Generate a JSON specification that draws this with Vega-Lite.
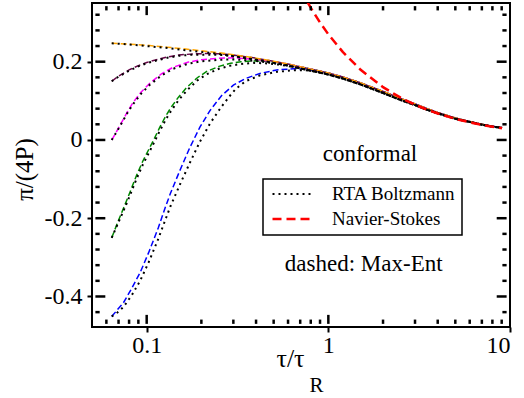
{
  "$schema": "https://vega.github.io/schema/vega-lite/v6.json",
  "width": 418,
  "height": 324,
  "autosize": {"type": "none"},
  "padding": {"left": 92, "top": 3, "right": 14, "bottom": 71},
  "background": "white",
  "config": {
    "font": "Liberation Serif",
    "view": {"stroke": "black", "strokeWidth": 2},
    "axis": {
      "domain": false,
      "grid": false,
      "ticks": true,
      "tickColor": "black",
      "tickWidth": 2,
      "labelFont": "Liberation Serif",
      "labelFontSize": 24,
      "labelColor": "black",
      "titleFont": "Liberation Serif",
      "titleFontWeight": "normal",
      "titleFontSize": 24,
      "titleColor": "black"
    },
    "legend": {
      "labelFont": "Liberation Serif",
      "labelFontSize": 19,
      "labelColor": "black",
      "padding": 6,
      "symbolOffset": 2,
      "labelOffset": 18,
      "rowPadding": 6,
      "clipHeight": 18,
      "strokeColor": "black",
      "strokeWidth": 1.5,
      "fillColor": "white",
      "symbolType": "stroke",
      "symbolSize": 1600,
      "symbolStrokeWidth": 2
    }
  },
  "datasets": {
    "xmajor": [{"t": 0.1}, {"t": 1}],
    "xminor": [
      {"t": 0.06}, {"t": 0.07}, {"t": 0.08}, {"t": 0.09},
      {"t": 0.2}, {"t": 0.3}, {"t": 0.4}, {"t": 0.5}, {"t": 0.6}, {"t": 0.7}, {"t": 0.8}, {"t": 0.9},
      {"t": 2}, {"t": 3}, {"t": 4}, {"t": 5}, {"t": 6}, {"t": 7}, {"t": 8}, {"t": 9}
    ],
    "ymajor": [{"t": -0.4}, {"t": -0.2}, {"t": 0}, {"t": 0.2}],
    "yminor": [
      {"t": -0.44}, {"t": -0.36}, {"t": -0.32}, {"t": -0.28}, {"t": -0.24}, {"t": -0.16}, {"t": -0.12}, {"t": -0.08},
      {"t": -0.04}, {"t": 0.04}, {"t": 0.08}, {"t": 0.12}, {"t": 0.16}, {"t": 0.24}, {"t": 0.28}, {"t": 0.32}
    ],
    "curves": [
      {"kind": "Max-Ent a", "run": "a", "w": 0.0642, "v": -0.451},
      {"kind": "Max-Ent a", "run": "a", "w": 0.069, "v": -0.434},
      {"kind": "Max-Ent a", "run": "a", "w": 0.0745, "v": -0.416},
      {"kind": "Max-Ent a", "run": "a", "w": 0.083, "v": -0.378},
      {"kind": "Max-Ent a", "run": "a", "w": 0.092, "v": -0.339},
      {"kind": "Max-Ent a", "run": "a", "w": 0.1025, "v": -0.288},
      {"kind": "Max-Ent a", "run": "a", "w": 0.116, "v": -0.224},
      {"kind": "Max-Ent a", "run": "a", "w": 0.126, "v": -0.175},
      {"kind": "Max-Ent a", "run": "a", "w": 0.135, "v": -0.137},
      {"kind": "Max-Ent a", "run": "a", "w": 0.152, "v": -0.079},
      {"kind": "Max-Ent a", "run": "a", "w": 0.173, "v": -0.019},
      {"kind": "Max-Ent a", "run": "a", "w": 0.196, "v": 0.032},
      {"kind": "Max-Ent a", "run": "a", "w": 0.223, "v": 0.075},
      {"kind": "Max-Ent a", "run": "a", "w": 0.258, "v": 0.113},
      {"kind": "Max-Ent a", "run": "a", "w": 0.3, "v": 0.140},
      {"kind": "Max-Ent a", "run": "a", "w": 0.35, "v": 0.157},
      {"kind": "Max-Ent a", "run": "a", "w": 0.42, "v": 0.170},
      {"kind": "Max-Ent a", "run": "a", "w": 0.52, "v": 0.179},
      {"kind": "Max-Ent a", "run": "a", "w": 0.64, "v": 0.182},
      {"kind": "Max-Ent a", "run": "a", "w": 0.75, "v": 0.181},
      {"kind": "Max-Ent a", "run": "a", "w": 0.85, "v": 0.177},
      {"kind": "Max-Ent a", "run": "a", "w": 1.0, "v": 0.171},
      {"kind": "Max-Ent a", "run": "a", "w": 1.2, "v": 0.161},
      {"kind": "Max-Ent a", "run": "a", "w": 1.5, "v": 0.146},
      {"kind": "Max-Ent a", "run": "a", "w": 2.0, "v": 0.124},
      {"kind": "Max-Ent a", "run": "a", "w": 2.5, "v": 0.106},
      {"kind": "Max-Ent a", "run": "a", "w": 3.0, "v": 0.092},
      {"kind": "Max-Ent a", "run": "a", "w": 3.5, "v": 0.080},
      {"kind": "Max-Ent a", "run": "a", "w": 4.0, "v": 0.070},
      {"kind": "Max-Ent a", "run": "a", "w": 5.0, "v": 0.056},
      {"kind": "Max-Ent a", "run": "a", "w": 6.0, "v": 0.047},
      {"kind": "Max-Ent a", "run": "a", "w": 7.0, "v": 0.040},
      {"kind": "Max-Ent a", "run": "a", "w": 8.0, "v": 0.035},
      {"kind": "Max-Ent a", "run": "a", "w": 9.04, "v": 0.031},

      {"kind": "Max-Ent b", "run": "b", "w": 0.0642, "v": -0.25},
      {"kind": "Max-Ent b", "run": "b", "w": 0.07, "v": -0.205},
      {"kind": "Max-Ent b", "run": "b", "w": 0.076, "v": -0.165},
      {"kind": "Max-Ent b", "run": "b", "w": 0.081, "v": -0.133},
      {"kind": "Max-Ent b", "run": "b", "w": 0.088, "v": -0.09},
      {"kind": "Max-Ent b", "run": "b", "w": 0.095, "v": -0.055},
      {"kind": "Max-Ent b", "run": "b", "w": 0.1025, "v": -0.025},
      {"kind": "Max-Ent b", "run": "b", "w": 0.11, "v": 0.003},
      {"kind": "Max-Ent b", "run": "b", "w": 0.118, "v": 0.032},
      {"kind": "Max-Ent b", "run": "b", "w": 0.128, "v": 0.063},
      {"kind": "Max-Ent b", "run": "b", "w": 0.137, "v": 0.085},
      {"kind": "Max-Ent b", "run": "b", "w": 0.15, "v": 0.110},
      {"kind": "Max-Ent b", "run": "b", "w": 0.166, "v": 0.134},
      {"kind": "Max-Ent b", "run": "b", "w": 0.19, "v": 0.159},
      {"kind": "Max-Ent b", "run": "b", "w": 0.214, "v": 0.175},
      {"kind": "Max-Ent b", "run": "b", "w": 0.25, "v": 0.188},
      {"kind": "Max-Ent b", "run": "b", "w": 0.29, "v": 0.196},
      {"kind": "Max-Ent b", "run": "b", "w": 0.33, "v": 0.200},
      {"kind": "Max-Ent b", "run": "b", "w": 0.385, "v": 0.202},
      {"kind": "Max-Ent b", "run": "b", "w": 0.45, "v": 0.201},
      {"kind": "Max-Ent b", "run": "b", "w": 0.55, "v": 0.197},
      {"kind": "Max-Ent b", "run": "b", "w": 0.65, "v": 0.190},
      {"kind": "Max-Ent b", "run": "b", "w": 0.7, "v": 0.187},
      {"kind": "Max-Ent b", "run": "b", "w": 0.8, "v": 0.181},
      {"kind": "Max-Ent b", "run": "b", "w": 0.9, "v": 0.176},
      {"kind": "Max-Ent b", "run": "b", "w": 1.0, "v": 0.171},
      {"kind": "Max-Ent b", "run": "b", "w": 1.2, "v": 0.161},
      {"kind": "Max-Ent b", "run": "b", "w": 1.5, "v": 0.146},
      {"kind": "Max-Ent b", "run": "b", "w": 2.0, "v": 0.124},
      {"kind": "Max-Ent b", "run": "b", "w": 2.5, "v": 0.106},
      {"kind": "Max-Ent b", "run": "b", "w": 3.0, "v": 0.092},
      {"kind": "Max-Ent b", "run": "b", "w": 3.5, "v": 0.080},
      {"kind": "Max-Ent b", "run": "b", "w": 4.0, "v": 0.070},
      {"kind": "Max-Ent b", "run": "b", "w": 5.0, "v": 0.056},
      {"kind": "Max-Ent b", "run": "b", "w": 6.0, "v": 0.047},
      {"kind": "Max-Ent b", "run": "b", "w": 7.0, "v": 0.040},
      {"kind": "Max-Ent b", "run": "b", "w": 8.0, "v": 0.035},
      {"kind": "Max-Ent b", "run": "b", "w": 9.04, "v": 0.031},

      {"kind": "Max-Ent c", "run": "c", "w": 0.0642, "v": 0.0},
      {"kind": "Max-Ent c", "run": "c", "w": 0.068, "v": 0.020},
      {"kind": "Max-Ent c", "run": "c", "w": 0.072, "v": 0.041},
      {"kind": "Max-Ent c", "run": "c", "w": 0.079, "v": 0.075},
      {"kind": "Max-Ent c", "run": "c", "w": 0.084, "v": 0.095},
      {"kind": "Max-Ent c", "run": "c", "w": 0.093, "v": 0.122},
      {"kind": "Max-Ent c", "run": "c", "w": 0.104, "v": 0.145},
      {"kind": "Max-Ent c", "run": "c", "w": 0.12, "v": 0.168},
      {"kind": "Max-Ent c", "run": "c", "w": 0.14, "v": 0.186},
      {"kind": "Max-Ent c", "run": "c", "w": 0.17, "v": 0.199},
      {"kind": "Max-Ent c", "run": "c", "w": 0.2, "v": 0.205},
      {"kind": "Max-Ent c", "run": "c", "w": 0.25, "v": 0.209},
      {"kind": "Max-Ent c", "run": "c", "w": 0.3, "v": 0.210},
      {"kind": "Max-Ent c", "run": "c", "w": 0.4, "v": 0.206},
      {"kind": "Max-Ent c", "run": "c", "w": 0.5, "v": 0.200},
      {"kind": "Max-Ent c", "run": "c", "w": 0.6, "v": 0.194},
      {"kind": "Max-Ent c", "run": "c", "w": 0.7, "v": 0.187},
      {"kind": "Max-Ent c", "run": "c", "w": 0.8, "v": 0.181},
      {"kind": "Max-Ent c", "run": "c", "w": 0.9, "v": 0.176},
      {"kind": "Max-Ent c", "run": "c", "w": 1.0, "v": 0.171},
      {"kind": "Max-Ent c", "run": "c", "w": 1.2, "v": 0.161},
      {"kind": "Max-Ent c", "run": "c", "w": 1.5, "v": 0.146},
      {"kind": "Max-Ent c", "run": "c", "w": 2.0, "v": 0.124},
      {"kind": "Max-Ent c", "run": "c", "w": 2.5, "v": 0.106},
      {"kind": "Max-Ent c", "run": "c", "w": 3.0, "v": 0.092},
      {"kind": "Max-Ent c", "run": "c", "w": 3.5, "v": 0.080},
      {"kind": "Max-Ent c", "run": "c", "w": 4.0, "v": 0.070},
      {"kind": "Max-Ent c", "run": "c", "w": 5.0, "v": 0.056},
      {"kind": "Max-Ent c", "run": "c", "w": 6.0, "v": 0.047},
      {"kind": "Max-Ent c", "run": "c", "w": 7.0, "v": 0.040},
      {"kind": "Max-Ent c", "run": "c", "w": 8.0, "v": 0.035},
      {"kind": "Max-Ent c", "run": "c", "w": 9.04, "v": 0.031},

      {"kind": "Max-Ent d", "run": "d", "w": 0.0642, "v": 0.150},
      {"kind": "Max-Ent d", "run": "d", "w": 0.07, "v": 0.163},
      {"kind": "Max-Ent d", "run": "d", "w": 0.08, "v": 0.179},
      {"kind": "Max-Ent d", "run": "d", "w": 0.09, "v": 0.190},
      {"kind": "Max-Ent d", "run": "d", "w": 0.1, "v": 0.198},
      {"kind": "Max-Ent d", "run": "d", "w": 0.115, "v": 0.206},
      {"kind": "Max-Ent d", "run": "d", "w": 0.13, "v": 0.212},
      {"kind": "Max-Ent d", "run": "d", "w": 0.15, "v": 0.217},
      {"kind": "Max-Ent d", "run": "d", "w": 0.18, "v": 0.220},
      {"kind": "Max-Ent d", "run": "d", "w": 0.22, "v": 0.221},
      {"kind": "Max-Ent d", "run": "d", "w": 0.26, "v": 0.220},
      {"kind": "Max-Ent d", "run": "d", "w": 0.3, "v": 0.217},
      {"kind": "Max-Ent d", "run": "d", "w": 0.4, "v": 0.209},
      {"kind": "Max-Ent d", "run": "d", "w": 0.5, "v": 0.201},
      {"kind": "Max-Ent d", "run": "d", "w": 0.6, "v": 0.194},
      {"kind": "Max-Ent d", "run": "d", "w": 0.7, "v": 0.187},
      {"kind": "Max-Ent d", "run": "d", "w": 0.8, "v": 0.181},
      {"kind": "Max-Ent d", "run": "d", "w": 0.9, "v": 0.176},
      {"kind": "Max-Ent d", "run": "d", "w": 1.0, "v": 0.171},
      {"kind": "Max-Ent d", "run": "d", "w": 1.2, "v": 0.161},
      {"kind": "Max-Ent d", "run": "d", "w": 1.5, "v": 0.146},
      {"kind": "Max-Ent d", "run": "d", "w": 2.0, "v": 0.124},
      {"kind": "Max-Ent d", "run": "d", "w": 2.5, "v": 0.106},
      {"kind": "Max-Ent d", "run": "d", "w": 3.0, "v": 0.092},
      {"kind": "Max-Ent d", "run": "d", "w": 3.5, "v": 0.080},
      {"kind": "Max-Ent d", "run": "d", "w": 4.0, "v": 0.070},
      {"kind": "Max-Ent d", "run": "d", "w": 5.0, "v": 0.056},
      {"kind": "Max-Ent d", "run": "d", "w": 6.0, "v": 0.047},
      {"kind": "Max-Ent d", "run": "d", "w": 7.0, "v": 0.040},
      {"kind": "Max-Ent d", "run": "d", "w": 8.0, "v": 0.035},
      {"kind": "Max-Ent d", "run": "d", "w": 9.04, "v": 0.031},

      {"kind": "Max-Ent e", "run": "e", "w": 0.0642, "v": 0.247},
      {"kind": "Max-Ent e", "run": "e", "w": 0.08, "v": 0.245},
      {"kind": "Max-Ent e", "run": "e", "w": 0.1, "v": 0.242},
      {"kind": "Max-Ent e", "run": "e", "w": 0.13, "v": 0.237},
      {"kind": "Max-Ent e", "run": "e", "w": 0.16, "v": 0.233},
      {"kind": "Max-Ent e", "run": "e", "w": 0.2, "v": 0.228},
      {"kind": "Max-Ent e", "run": "e", "w": 0.25, "v": 0.223},
      {"kind": "Max-Ent e", "run": "e", "w": 0.3, "v": 0.218},
      {"kind": "Max-Ent e", "run": "e", "w": 0.4, "v": 0.209},
      {"kind": "Max-Ent e", "run": "e", "w": 0.5, "v": 0.201},
      {"kind": "Max-Ent e", "run": "e", "w": 0.6, "v": 0.194},
      {"kind": "Max-Ent e", "run": "e", "w": 0.7, "v": 0.187},
      {"kind": "Max-Ent e", "run": "e", "w": 0.8, "v": 0.181},
      {"kind": "Max-Ent e", "run": "e", "w": 0.9, "v": 0.176},
      {"kind": "Max-Ent e", "run": "e", "w": 1.0, "v": 0.171},
      {"kind": "Max-Ent e", "run": "e", "w": 1.2, "v": 0.161},
      {"kind": "Max-Ent e", "run": "e", "w": 1.5, "v": 0.146},
      {"kind": "Max-Ent e", "run": "e", "w": 2.0, "v": 0.124},
      {"kind": "Max-Ent e", "run": "e", "w": 2.5, "v": 0.106},
      {"kind": "Max-Ent e", "run": "e", "w": 3.0, "v": 0.092},
      {"kind": "Max-Ent e", "run": "e", "w": 3.5, "v": 0.080},
      {"kind": "Max-Ent e", "run": "e", "w": 4.0, "v": 0.070},
      {"kind": "Max-Ent e", "run": "e", "w": 5.0, "v": 0.056},
      {"kind": "Max-Ent e", "run": "e", "w": 6.0, "v": 0.047},
      {"kind": "Max-Ent e", "run": "e", "w": 7.0, "v": 0.040},
      {"kind": "Max-Ent e", "run": "e", "w": 8.0, "v": 0.035},
      {"kind": "Max-Ent e", "run": "e", "w": 9.04, "v": 0.031},

      {"kind": "RTA Boltzmann", "run": "a", "w": 0.0642, "v": -0.451},
      {"kind": "RTA Boltzmann", "run": "a", "w": 0.069, "v": -0.441},
      {"kind": "RTA Boltzmann", "run": "a", "w": 0.0745, "v": -0.427},
      {"kind": "RTA Boltzmann", "run": "a", "w": 0.083, "v": -0.396},
      {"kind": "RTA Boltzmann", "run": "a", "w": 0.092, "v": -0.360},
      {"kind": "RTA Boltzmann", "run": "a", "w": 0.1025, "v": -0.313},
      {"kind": "RTA Boltzmann", "run": "a", "w": 0.116, "v": -0.252},
      {"kind": "RTA Boltzmann", "run": "a", "w": 0.126, "v": -0.207},
      {"kind": "RTA Boltzmann", "run": "a", "w": 0.135, "v": -0.170},
      {"kind": "RTA Boltzmann", "run": "a", "w": 0.152, "v": -0.115},
      {"kind": "RTA Boltzmann", "run": "a", "w": 0.173, "v": -0.058},
      {"kind": "RTA Boltzmann", "run": "a", "w": 0.196, "v": -0.005},
      {"kind": "RTA Boltzmann", "run": "a", "w": 0.223, "v": 0.042},
      {"kind": "RTA Boltzmann", "run": "a", "w": 0.258, "v": 0.085},
      {"kind": "RTA Boltzmann", "run": "a", "w": 0.293, "v": 0.118},
      {"kind": "RTA Boltzmann", "run": "a", "w": 0.312, "v": 0.132},
      {"kind": "RTA Boltzmann", "run": "a", "w": 0.35, "v": 0.150},
      {"kind": "RTA Boltzmann", "run": "a", "w": 0.42, "v": 0.165},
      {"kind": "RTA Boltzmann", "run": "a", "w": 0.52, "v": 0.174},
      {"kind": "RTA Boltzmann", "run": "a", "w": 0.64, "v": 0.178},
      {"kind": "RTA Boltzmann", "run": "a", "w": 0.75, "v": 0.178},
      {"kind": "RTA Boltzmann", "run": "a", "w": 0.85, "v": 0.175},
      {"kind": "RTA Boltzmann", "run": "a", "w": 1.0, "v": 0.168},
      {"kind": "RTA Boltzmann", "run": "a", "w": 1.2, "v": 0.157},
      {"kind": "RTA Boltzmann", "run": "a", "w": 1.5, "v": 0.142},
      {"kind": "RTA Boltzmann", "run": "a", "w": 2.0, "v": 0.120},
      {"kind": "RTA Boltzmann", "run": "a", "w": 2.5, "v": 0.102},
      {"kind": "RTA Boltzmann", "run": "a", "w": 3.0, "v": 0.089},
      {"kind": "RTA Boltzmann", "run": "a", "w": 3.5, "v": 0.077},
      {"kind": "RTA Boltzmann", "run": "a", "w": 4.0, "v": 0.068},
      {"kind": "RTA Boltzmann", "run": "a", "w": 5.0, "v": 0.054},
      {"kind": "RTA Boltzmann", "run": "a", "w": 6.0, "v": 0.046},
      {"kind": "RTA Boltzmann", "run": "a", "w": 7.0, "v": 0.039},
      {"kind": "RTA Boltzmann", "run": "a", "w": 8.0, "v": 0.034},
      {"kind": "RTA Boltzmann", "run": "a", "w": 9.04, "v": 0.031},

      {"kind": "RTA Boltzmann", "run": "b", "w": 0.0642, "v": -0.25},
      {"kind": "RTA Boltzmann", "run": "b", "w": 0.07, "v": -0.21},
      {"kind": "RTA Boltzmann", "run": "b", "w": 0.076, "v": -0.172},
      {"kind": "RTA Boltzmann", "run": "b", "w": 0.081, "v": -0.141},
      {"kind": "RTA Boltzmann", "run": "b", "w": 0.088, "v": -0.099},
      {"kind": "RTA Boltzmann", "run": "b", "w": 0.095, "v": -0.064},
      {"kind": "RTA Boltzmann", "run": "b", "w": 0.1025, "v": -0.034},
      {"kind": "RTA Boltzmann", "run": "b", "w": 0.11, "v": -0.006},
      {"kind": "RTA Boltzmann", "run": "b", "w": 0.118, "v": 0.023},
      {"kind": "RTA Boltzmann", "run": "b", "w": 0.128, "v": 0.054},
      {"kind": "RTA Boltzmann", "run": "b", "w": 0.137, "v": 0.076},
      {"kind": "RTA Boltzmann", "run": "b", "w": 0.15, "v": 0.102},
      {"kind": "RTA Boltzmann", "run": "b", "w": 0.166, "v": 0.126},
      {"kind": "RTA Boltzmann", "run": "b", "w": 0.19, "v": 0.152},
      {"kind": "RTA Boltzmann", "run": "b", "w": 0.214, "v": 0.168},
      {"kind": "RTA Boltzmann", "run": "b", "w": 0.25, "v": 0.182},
      {"kind": "RTA Boltzmann", "run": "b", "w": 0.29, "v": 0.190},
      {"kind": "RTA Boltzmann", "run": "b", "w": 0.33, "v": 0.194},
      {"kind": "RTA Boltzmann", "run": "b", "w": 0.385, "v": 0.197},
      {"kind": "RTA Boltzmann", "run": "b", "w": 0.45, "v": 0.196},
      {"kind": "RTA Boltzmann", "run": "b", "w": 0.55, "v": 0.192},
      {"kind": "RTA Boltzmann", "run": "b", "w": 0.65, "v": 0.186},
      {"kind": "RTA Boltzmann", "run": "b", "w": 0.7, "v": 0.183},
      {"kind": "RTA Boltzmann", "run": "b", "w": 0.8, "v": 0.177},
      {"kind": "RTA Boltzmann", "run": "b", "w": 0.9, "v": 0.172},
      {"kind": "RTA Boltzmann", "run": "b", "w": 1.0, "v": 0.167},
      {"kind": "RTA Boltzmann", "run": "b", "w": 1.2, "v": 0.157},
      {"kind": "RTA Boltzmann", "run": "b", "w": 1.5, "v": 0.142},
      {"kind": "RTA Boltzmann", "run": "b", "w": 2.0, "v": 0.120},
      {"kind": "RTA Boltzmann", "run": "b", "w": 2.5, "v": 0.102},
      {"kind": "RTA Boltzmann", "run": "b", "w": 3.0, "v": 0.089},
      {"kind": "RTA Boltzmann", "run": "b", "w": 3.5, "v": 0.077},
      {"kind": "RTA Boltzmann", "run": "b", "w": 4.0, "v": 0.068},
      {"kind": "RTA Boltzmann", "run": "b", "w": 5.0, "v": 0.054},
      {"kind": "RTA Boltzmann", "run": "b", "w": 6.0, "v": 0.046},
      {"kind": "RTA Boltzmann", "run": "b", "w": 7.0, "v": 0.039},
      {"kind": "RTA Boltzmann", "run": "b", "w": 8.0, "v": 0.034},
      {"kind": "RTA Boltzmann", "run": "b", "w": 9.04, "v": 0.031},

      {"kind": "RTA Boltzmann", "run": "c", "w": 0.0642, "v": 0.0},
      {"kind": "RTA Boltzmann", "run": "c", "w": 0.068, "v": 0.019},
      {"kind": "RTA Boltzmann", "run": "c", "w": 0.072, "v": 0.039},
      {"kind": "RTA Boltzmann", "run": "c", "w": 0.079, "v": 0.072},
      {"kind": "RTA Boltzmann", "run": "c", "w": 0.084, "v": 0.091},
      {"kind": "RTA Boltzmann", "run": "c", "w": 0.093, "v": 0.118},
      {"kind": "RTA Boltzmann", "run": "c", "w": 0.104, "v": 0.141},
      {"kind": "RTA Boltzmann", "run": "c", "w": 0.12, "v": 0.164},
      {"kind": "RTA Boltzmann", "run": "c", "w": 0.14, "v": 0.182},
      {"kind": "RTA Boltzmann", "run": "c", "w": 0.17, "v": 0.195},
      {"kind": "RTA Boltzmann", "run": "c", "w": 0.2, "v": 0.201},
      {"kind": "RTA Boltzmann", "run": "c", "w": 0.25, "v": 0.205},
      {"kind": "RTA Boltzmann", "run": "c", "w": 0.3, "v": 0.206},
      {"kind": "RTA Boltzmann", "run": "c", "w": 0.4, "v": 0.202},
      {"kind": "RTA Boltzmann", "run": "c", "w": 0.5, "v": 0.196},
      {"kind": "RTA Boltzmann", "run": "c", "w": 0.6, "v": 0.190},
      {"kind": "RTA Boltzmann", "run": "c", "w": 0.7, "v": 0.183},
      {"kind": "RTA Boltzmann", "run": "c", "w": 0.8, "v": 0.177},
      {"kind": "RTA Boltzmann", "run": "c", "w": 0.9, "v": 0.172},
      {"kind": "RTA Boltzmann", "run": "c", "w": 1.0, "v": 0.167},
      {"kind": "RTA Boltzmann", "run": "c", "w": 1.2, "v": 0.157},
      {"kind": "RTA Boltzmann", "run": "c", "w": 1.5, "v": 0.142},
      {"kind": "RTA Boltzmann", "run": "c", "w": 2.0, "v": 0.120},
      {"kind": "RTA Boltzmann", "run": "c", "w": 2.5, "v": 0.102},
      {"kind": "RTA Boltzmann", "run": "c", "w": 3.0, "v": 0.089},
      {"kind": "RTA Boltzmann", "run": "c", "w": 3.5, "v": 0.077},
      {"kind": "RTA Boltzmann", "run": "c", "w": 4.0, "v": 0.068},
      {"kind": "RTA Boltzmann", "run": "c", "w": 5.0, "v": 0.054},
      {"kind": "RTA Boltzmann", "run": "c", "w": 6.0, "v": 0.046},
      {"kind": "RTA Boltzmann", "run": "c", "w": 7.0, "v": 0.039},
      {"kind": "RTA Boltzmann", "run": "c", "w": 8.0, "v": 0.034},
      {"kind": "RTA Boltzmann", "run": "c", "w": 9.04, "v": 0.031},

      {"kind": "RTA Boltzmann", "run": "d", "w": 0.0642, "v": 0.150},
      {"kind": "RTA Boltzmann", "run": "d", "w": 0.07, "v": 0.162},
      {"kind": "RTA Boltzmann", "run": "d", "w": 0.08, "v": 0.177},
      {"kind": "RTA Boltzmann", "run": "d", "w": 0.09, "v": 0.188},
      {"kind": "RTA Boltzmann", "run": "d", "w": 0.1, "v": 0.196},
      {"kind": "RTA Boltzmann", "run": "d", "w": 0.115, "v": 0.204},
      {"kind": "RTA Boltzmann", "run": "d", "w": 0.13, "v": 0.210},
      {"kind": "RTA Boltzmann", "run": "d", "w": 0.15, "v": 0.215},
      {"kind": "RTA Boltzmann", "run": "d", "w": 0.18, "v": 0.218},
      {"kind": "RTA Boltzmann", "run": "d", "w": 0.22, "v": 0.218},
      {"kind": "RTA Boltzmann", "run": "d", "w": 0.26, "v": 0.217},
      {"kind": "RTA Boltzmann", "run": "d", "w": 0.3, "v": 0.214},
      {"kind": "RTA Boltzmann", "run": "d", "w": 0.4, "v": 0.205},
      {"kind": "RTA Boltzmann", "run": "d", "w": 0.5, "v": 0.197},
      {"kind": "RTA Boltzmann", "run": "d", "w": 0.6, "v": 0.190},
      {"kind": "RTA Boltzmann", "run": "d", "w": 0.7, "v": 0.183},
      {"kind": "RTA Boltzmann", "run": "d", "w": 0.8, "v": 0.177},
      {"kind": "RTA Boltzmann", "run": "d", "w": 0.9, "v": 0.172},
      {"kind": "RTA Boltzmann", "run": "d", "w": 1.0, "v": 0.167},
      {"kind": "RTA Boltzmann", "run": "d", "w": 1.2, "v": 0.157},
      {"kind": "RTA Boltzmann", "run": "d", "w": 1.5, "v": 0.142},
      {"kind": "RTA Boltzmann", "run": "d", "w": 2.0, "v": 0.120},
      {"kind": "RTA Boltzmann", "run": "d", "w": 2.5, "v": 0.102},
      {"kind": "RTA Boltzmann", "run": "d", "w": 3.0, "v": 0.089},
      {"kind": "RTA Boltzmann", "run": "d", "w": 3.5, "v": 0.077},
      {"kind": "RTA Boltzmann", "run": "d", "w": 4.0, "v": 0.068},
      {"kind": "RTA Boltzmann", "run": "d", "w": 5.0, "v": 0.054},
      {"kind": "RTA Boltzmann", "run": "d", "w": 6.0, "v": 0.046},
      {"kind": "RTA Boltzmann", "run": "d", "w": 7.0, "v": 0.039},
      {"kind": "RTA Boltzmann", "run": "d", "w": 8.0, "v": 0.034},
      {"kind": "RTA Boltzmann", "run": "d", "w": 9.04, "v": 0.031},

      {"kind": "RTA Boltzmann", "run": "e", "w": 0.0642, "v": 0.247},
      {"kind": "RTA Boltzmann", "run": "e", "w": 0.08, "v": 0.244},
      {"kind": "RTA Boltzmann", "run": "e", "w": 0.1, "v": 0.240},
      {"kind": "RTA Boltzmann", "run": "e", "w": 0.13, "v": 0.235},
      {"kind": "RTA Boltzmann", "run": "e", "w": 0.16, "v": 0.230},
      {"kind": "RTA Boltzmann", "run": "e", "w": 0.2, "v": 0.225},
      {"kind": "RTA Boltzmann", "run": "e", "w": 0.25, "v": 0.220},
      {"kind": "RTA Boltzmann", "run": "e", "w": 0.3, "v": 0.214},
      {"kind": "RTA Boltzmann", "run": "e", "w": 0.4, "v": 0.205},
      {"kind": "RTA Boltzmann", "run": "e", "w": 0.5, "v": 0.197},
      {"kind": "RTA Boltzmann", "run": "e", "w": 0.6, "v": 0.190},
      {"kind": "RTA Boltzmann", "run": "e", "w": 0.7, "v": 0.183},
      {"kind": "RTA Boltzmann", "run": "e", "w": 0.8, "v": 0.177},
      {"kind": "RTA Boltzmann", "run": "e", "w": 0.9, "v": 0.172},
      {"kind": "RTA Boltzmann", "run": "e", "w": 1.0, "v": 0.167},
      {"kind": "RTA Boltzmann", "run": "e", "w": 1.2, "v": 0.157},
      {"kind": "RTA Boltzmann", "run": "e", "w": 1.5, "v": 0.142},
      {"kind": "RTA Boltzmann", "run": "e", "w": 2.0, "v": 0.120},
      {"kind": "RTA Boltzmann", "run": "e", "w": 2.5, "v": 0.102},
      {"kind": "RTA Boltzmann", "run": "e", "w": 3.0, "v": 0.089},
      {"kind": "RTA Boltzmann", "run": "e", "w": 3.5, "v": 0.077},
      {"kind": "RTA Boltzmann", "run": "e", "w": 4.0, "v": 0.068},
      {"kind": "RTA Boltzmann", "run": "e", "w": 5.0, "v": 0.054},
      {"kind": "RTA Boltzmann", "run": "e", "w": 6.0, "v": 0.046},
      {"kind": "RTA Boltzmann", "run": "e", "w": 7.0, "v": 0.039},
      {"kind": "RTA Boltzmann", "run": "e", "w": 8.0, "v": 0.034},
      {"kind": "RTA Boltzmann", "run": "e", "w": 9.04, "v": 0.031},

      {"kind": "Navier-Stokes", "run": "ns", "w": 0.77, "v": 0.351},
      {"kind": "Navier-Stokes", "run": "ns", "w": 0.8, "v": 0.338},
      {"kind": "Navier-Stokes", "run": "ns", "w": 0.9, "v": 0.300},
      {"kind": "Navier-Stokes", "run": "ns", "w": 1.0, "v": 0.270},
      {"kind": "Navier-Stokes", "run": "ns", "w": 1.2, "v": 0.225},
      {"kind": "Navier-Stokes", "run": "ns", "w": 1.5, "v": 0.180},
      {"kind": "Navier-Stokes", "run": "ns", "w": 2.0, "v": 0.135},
      {"kind": "Navier-Stokes", "run": "ns", "w": 2.5, "v": 0.108},
      {"kind": "Navier-Stokes", "run": "ns", "w": 3.0, "v": 0.090},
      {"kind": "Navier-Stokes", "run": "ns", "w": 3.5, "v": 0.077},
      {"kind": "Navier-Stokes", "run": "ns", "w": 4.0, "v": 0.0675},
      {"kind": "Navier-Stokes", "run": "ns", "w": 5.0, "v": 0.054},
      {"kind": "Navier-Stokes", "run": "ns", "w": 6.0, "v": 0.045},
      {"kind": "Navier-Stokes", "run": "ns", "w": 7.0, "v": 0.0386},
      {"kind": "Navier-Stokes", "run": "ns", "w": 8.0, "v": 0.0338},
      {"kind": "Navier-Stokes", "run": "ns", "w": 9.04, "v": 0.0299}
    ]
  },
  "resolve": {"axis": {"x": "independent", "y": "independent"}},
  "layer": [
    {
      "data": {"name": "curves"},
      "mark": {"type": "line", "clip": true, "strokeCap": "butt"},
      "encoding": {
        "x": {
          "field": "w", "type": "quantitative",
          "scale": {"type": "log", "domain": [0.05, 10], "nice": false},
          "axis": {
            "orient": "bottom", "values": [0.1, 1, 10], "tickSize": 5,
            "labelPadding": 1, "labelExpr": "'' + datum.value",
            "title": "τ/τ", "titleFontSize": 26, "titleX": 198, "titleY": 39,
            "titleAlign": "center", "titleBaseline": "alphabetic", "titleAnchor": null
          }
        },
        "y": {
          "field": "v", "type": "quantitative",
          "scale": {"domain": [-0.478, 0.35], "nice": false, "zero": false},
          "axis": {
            "orient": "left", "values": [-0.4, -0.2, 0, 0.2], "tickSize": 5,
            "labelPadding": 5, "labelExpr": "'' + datum.value",
            "title": "π/(4P)", "titleFontSize": 25, "titleAngle": -90,
            "titleX": -68, "titleY": 166, "titleAlign": "center", "titleBaseline": "middle", "titleAnchor": null
          }
        },
        "detail": {"field": "run"},
        "color": {
          "field": "kind", "type": "nominal",
          "scale": {
            "domain": ["Max-Ent a", "Max-Ent b", "Max-Ent c", "Max-Ent d", "Max-Ent e", "RTA Boltzmann", "Navier-Stokes"],
            "range": ["#0000ff", "#008b00", "#ff00ff", "#670748", "#ffa500", "#000000", "#ff0000"]
          },
          "legend": {"orient": "none", "legendX": 171, "legendY": 176, "title": null, "values": ["RTA Boltzmann", "Navier-Stokes"]}
        },
        "strokeDash": {
          "field": "kind", "type": "nominal",
          "scale": {
            "domain": ["Max-Ent a", "Max-Ent b", "Max-Ent c", "Max-Ent d", "Max-Ent e", "RTA Boltzmann", "Navier-Stokes"],
            "range": [[6, 3], [6, 3], [6, 3], [6, 3], [6, 3], [2, 4], [9, 5]]
          },
          "legend": {"orient": "none", "legendX": 171, "legendY": 176, "title": null, "values": ["RTA Boltzmann", "Navier-Stokes"]}
        },
        "strokeWidth": {
          "field": "kind", "type": "nominal",
          "scale": {
            "type": "ordinal",
            "domain": ["Max-Ent a", "Max-Ent b", "Max-Ent c", "Max-Ent d", "Max-Ent e", "RTA Boltzmann", "Navier-Stokes"],
            "range": [1.5, 1.5, 1.5, 1.5, 1.5, 2, 2.5]
          },
          "legend": null
        }
      }
    },
    {
      "data": {"name": "xmajor"},
      "mark": {"type": "rule", "color": "black", "strokeWidth": 2.5, "opacity": 1},
      "encoding": {
        "x": {
          "field": "t", "type": "quantitative",
          "scale": {"type": "log", "domain": [0.05, 10], "nice": false},
          "axis": {
            "orient": "bottom", "labels": false, "ticks": false, "values": [],
            "title": "R", "titleFontSize": 21, "titleX": 224, "titleY": 64,
            "titleAlign": "center", "titleBaseline": "alphabetic", "titleAnchor": null
          }
        },
        "y": {"datum": -0.47, "type": "quantitative", "scale": {"domain": [-0.478, 0.35], "nice": false, "zero": false}, "axis": null},
        "y2": {"datum": -0.447}
      }
    },
    {
      "data": {"name": "xmajor"},
      "mark": {"type": "rule", "color": "black", "strokeWidth": 2.5, "opacity": 1},
      "encoding": {
        "x": {"field": "t", "type": "quantitative", "scale": {"type": "log", "domain": [0.05, 10], "nice": false}, "axis": null},
        "y": {"datum": 0.342, "type": "quantitative", "scale": {"domain": [-0.478, 0.35], "nice": false, "zero": false}, "axis": null},
        "y2": {"datum": 0.319}
      }
    },
    {
      "data": {"name": "xminor"},
      "mark": {"type": "rule", "color": "black", "strokeWidth": 2.5, "opacity": 1},
      "encoding": {
        "x": {"field": "t", "type": "quantitative", "scale": {"type": "log", "domain": [0.05, 10], "nice": false}, "axis": null},
        "y": {"datum": -0.47, "type": "quantitative", "scale": {"domain": [-0.478, 0.35], "nice": false, "zero": false}, "axis": null},
        "y2": {"datum": -0.459}
      }
    },
    {
      "data": {"name": "xminor"},
      "mark": {"type": "rule", "color": "black", "strokeWidth": 2.5, "opacity": 1},
      "encoding": {
        "x": {"field": "t", "type": "quantitative", "scale": {"type": "log", "domain": [0.05, 10], "nice": false}, "axis": null},
        "y": {"datum": 0.342, "type": "quantitative", "scale": {"domain": [-0.478, 0.35], "nice": false, "zero": false}, "axis": null},
        "y2": {"datum": 0.331}
      }
    },
    {
      "data": {"name": "ymajor"},
      "mark": {"type": "rule", "color": "black", "strokeWidth": 2.5, "opacity": 1},
      "encoding": {
        "y": {"field": "t", "type": "quantitative", "scale": {"domain": [-0.478, 0.35], "nice": false, "zero": false}, "axis": null},
        "x": {"datum": 0.0522, "type": "quantitative", "scale": {"type": "log", "domain": [0.05, 10], "nice": false}, "axis": null},
        "x2": {"datum": 0.0592}
      }
    },
    {
      "data": {"name": "ymajor"},
      "mark": {"type": "rule", "color": "black", "strokeWidth": 2.5, "opacity": 1},
      "encoding": {
        "y": {"field": "t", "type": "quantitative", "scale": {"domain": [-0.478, 0.35], "nice": false, "zero": false}, "axis": null},
        "x": {"datum": 9.58, "type": "quantitative", "scale": {"type": "log", "domain": [0.05, 10], "nice": false}, "axis": null},
        "x2": {"datum": 8.45}
      }
    },
    {
      "data": {"name": "yminor"},
      "mark": {"type": "rule", "color": "black", "strokeWidth": 2.5, "opacity": 1},
      "encoding": {
        "y": {"field": "t", "type": "quantitative", "scale": {"domain": [-0.478, 0.35], "nice": false, "zero": false}, "axis": null},
        "x": {"datum": 0.0522, "type": "quantitative", "scale": {"type": "log", "domain": [0.05, 10], "nice": false}, "axis": null},
        "x2": {"datum": 0.0551}
      }
    },
    {
      "data": {"name": "yminor"},
      "mark": {"type": "rule", "color": "black", "strokeWidth": 2.5, "opacity": 1},
      "encoding": {
        "y": {"field": "t", "type": "quantitative", "scale": {"domain": [-0.478, 0.35], "nice": false, "zero": false}, "axis": null},
        "x": {"datum": 9.58, "type": "quantitative", "scale": {"type": "log", "domain": [0.05, 10], "nice": false}, "axis": null},
        "x2": {"datum": 9.08}
      }
    },
    {
      "data": {"values": [{"label": "conformal"}]},
      "mark": {"type": "text", "font": "Liberation Serif", "fontSize": 23, "align": "center", "baseline": "alphabetic", "color": "black"},
      "encoding": {
        "text": {"field": "label"},
        "x": {"datum": 1.695, "type": "quantitative", "scale": {"type": "log", "domain": [0.05, 10], "nice": false}, "axis": null},
        "y": {"datum": -0.054, "type": "quantitative", "scale": {"domain": [-0.478, 0.35], "nice": false, "zero": false}, "axis": null}
      }
    },
    {
      "data": {"values": [{"label": "dashed: Max-Ent"}]},
      "mark": {"type": "text", "font": "Liberation Serif", "fontSize": 23, "align": "center", "baseline": "alphabetic", "color": "black"},
      "encoding": {
        "text": {"field": "label"},
        "x": {"datum": 1.565, "type": "quantitative", "scale": {"type": "log", "domain": [0.05, 10], "nice": false}, "axis": null},
        "y": {"datum": -0.335, "type": "quantitative", "scale": {"domain": [-0.478, 0.35], "nice": false, "zero": false}, "axis": null}
      }
    }
  ]
}
